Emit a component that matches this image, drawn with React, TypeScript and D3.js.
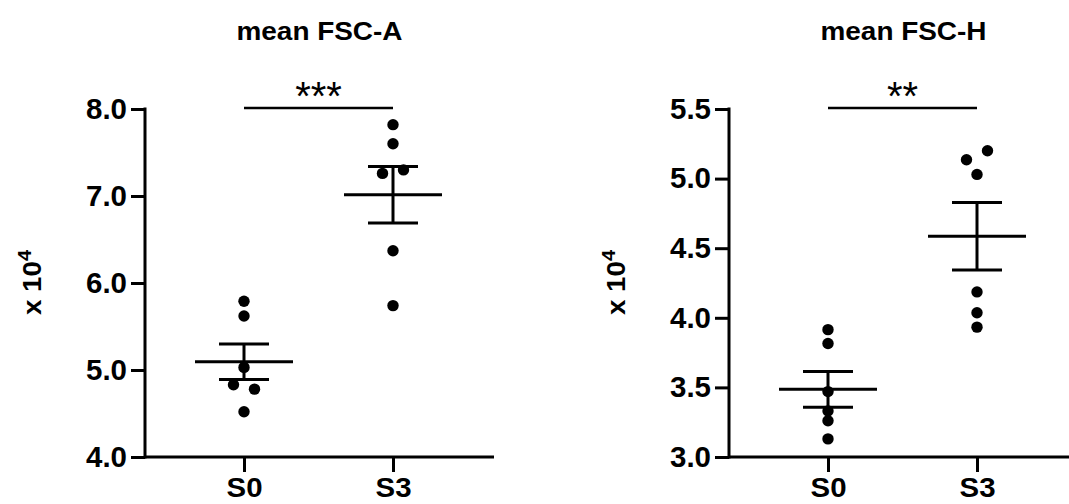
import React, { useEffect, useRef } from 'react';
import * as d3 from 'd3';

// values, in units of 10^4
const groups = ['S0', 'S3'];
const fscA_S0 = [5.79, 5.62, 5.03, 4.83, 4.78, 4.52];
const fscA_S3 = [7.82, 7.6, 7.26, 7.3, 6.37, 5.74];
const fscH_S0 = [3.915, 3.815, 3.47, 3.33, 3.26, 3.13];
const fscH_S3 = [5.135, 5.2, 5.03, 4.186, 4.036, 3.933];
const fscATicks = [4, 5, 6, 7, 8];
const fscHTicks = [3, 3.5, 4, 4.5, 5, 5.5];
const titles = ['mean FSC-A', 'mean FSC-H'];
const stars = ['***', '**'];

const FONT = '"Liberation Sans", Arial, sans-serif';

function App() {
    const svgRef = useRef(null);

    useEffect(() => {
        const svg = d3.select(svgRef.current);
        svg.selectAll('*').remove();

        const panels = [
            { left: 145, data: [fscA_S0, fscA_S3], ticks: fscATicks, title: titles[0], stars: stars[0] },
            { left: 729, data: [fscH_S0, fscH_S3], ticks: fscHTicks, title: titles[1], stars: stars[1] },
        ];
        const top = 109, bottom = 457, axisLen = 349;

        panels.forEach((p) => {
            const g = svg.append('g').attr('transform', `translate(${p.left},0)`);

            const y = d3.scaleLinear()
                .domain(d3.extent(p.ticks))
                .range([bottom, top]);
            const x = d3.scalePoint()
                .domain(groups)
                .range([99, 248]);

            // y axis
            const yAxis = g.append('g')
                .call(d3.axisLeft(y).tickValues(p.ticks).tickSize(14).tickSizeOuter(0).tickPadding(4).tickFormat(d3.format('.1f')));
            yAxis.select('.domain').remove();
            yAxis.selectAll('line').attr('stroke', '#000').attr('stroke-width', 3);
            yAxis.selectAll('text')
                .attr('fill', '#000')
                .attr('font-family', FONT)
                .attr('font-weight', 'bold')
                .attr('font-size', 29)
                .attr('textLength', 41)
                .attr('lengthAdjust', 'spacingAndGlyphs');
            yAxis.attr('font-size', null).attr('font-family', null);

            g.append('line')
                .attr('x1', 0).attr('x2', 0)
                .attr('y1', top - 1.5).attr('y2', bottom + 1.5)
                .attr('stroke', '#000').attr('stroke-width', 3);

            // x axis
            const xAxis = g.append('g')
                .attr('transform', `translate(0,${bottom})`)
                .call(d3.axisBottom(x).tickSize(15).tickSizeOuter(0).tickPadding(5));
            xAxis.select('.domain').remove();
            xAxis.selectAll('line').attr('stroke', '#000').attr('stroke-width', 3);
            xAxis.selectAll('text')
                .attr('fill', '#000')
                .attr('font-family', FONT)
                .attr('font-weight', 'bold')
                .attr('font-size', 28)
                .attr('textLength', 36)
                .attr('lengthAdjust', 'spacingAndGlyphs');
            xAxis.attr('font-size', null).attr('font-family', null);

            g.append('line')
                .attr('x1', 0).attr('x2', axisLen)
                .attr('y1', bottom).attr('y2', bottom)
                .attr('stroke', '#000').attr('stroke-width', 3);

            // title
            g.append('text')
                .attr('x', axisLen / 2)
                .attr('y', 40)
                .attr('text-anchor', 'middle')
                .attr('font-family', FONT)
                .attr('font-weight', 'bold')
                .attr('font-size', 26)
                .attr('textLength', 166)
                .attr('lengthAdjust', 'spacingAndGlyphs')
                .text(p.title);

            // y label "x 10^4"
            const lab = g.append('g');
            const t = lab.append('text')
                .attr('text-anchor', 'middle')
                .attr('font-family', FONT)
                .attr('font-weight', 'bold')
                .attr('font-size', 25);
            t.append('tspan').text('x 10');
            t.append('tspan').attr('font-size', 18).attr('dy', -10).text('4');
            const w = t.node().getComputedTextLength() || 60;
            lab.attr('transform', `translate(-104,282.5) rotate(-90) scale(${65 / w},1)`);

            // significance bar
            g.append('line')
                .attr('x1', x(groups[0])).attr('x2', x(groups[1]))
                .attr('y1', top - 1).attr('y2', top - 1)
                .attr('stroke', '#000').attr('stroke-width', 2.5);
            g.append('text')
                .attr('x', (x(groups[0]) + x(groups[1])) / 2)
                .attr('y', top + 1)
                .attr('text-anchor', 'middle')
                .attr('font-family', FONT)
                .attr('font-size', 40)
                .text(p.stars);

            // points, mean and SEM
            p.data.forEach((vals, gi) => {
                const cx = x(groups[gi]);

                // spread points that sit on top of each other
                const order = vals.map((v, i) => i).sort((a, b) => vals[b] - vals[a]);
                const clusters = [];
                order.forEach((idx, k) => {
                    if (k > 0 && Math.abs(y(vals[idx]) - y(vals[order[k - 1]])) < 9.5) {
                        clusters[clusters.length - 1].push(idx);
                    } else {
                        clusters.push([idx]);
                    }
                });
                const offs = vals.map(() => 0);
                clusters.forEach((c) => {
                    c.sort((a, b) => a - b).forEach((idx, k) => {
                        offs[idx] = (k - (c.length - 1) / 2) * 21;
                    });
                });

                g.selectAll(`circle.g${gi}`)
                    .data(vals)
                    .enter()
                    .append('circle')
                    .attr('class', `g${gi}`)
                    .attr('cx', (d, i) => cx + offs[i])
                    .attr('cy', (d) => y(d))
                    .attr('r', 5.7)
                    .attr('fill', '#000');

                const m = d3.mean(vals);
                const sem = d3.deviation(vals) / Math.sqrt(vals.length);
                const eg = g.append('g').attr('stroke', '#000').attr('stroke-width', 3);
                eg.append('line').attr('x1', cx - 49).attr('x2', cx + 49).attr('y1', y(m)).attr('y2', y(m));
                eg.append('line').attr('x1', cx).attr('x2', cx).attr('y1', y(m + sem)).attr('y2', y(m - sem));
                eg.append('line').attr('x1', cx - 25).attr('x2', cx + 25).attr('y1', y(m + sem)).attr('y2', y(m + sem));
                eg.append('line').attr('x1', cx - 25).attr('x2', cx + 25).attr('y1', y(m - sem)).attr('y2', y(m - sem));
            });
        });
    }, []);

    return (
        <svg
            ref={svgRef}
            width={1069}
            height={504}
            style={{ position: 'absolute', left: 0, top: 0, background: '#fff' }}
        ></svg>
    );
}

export default App;
